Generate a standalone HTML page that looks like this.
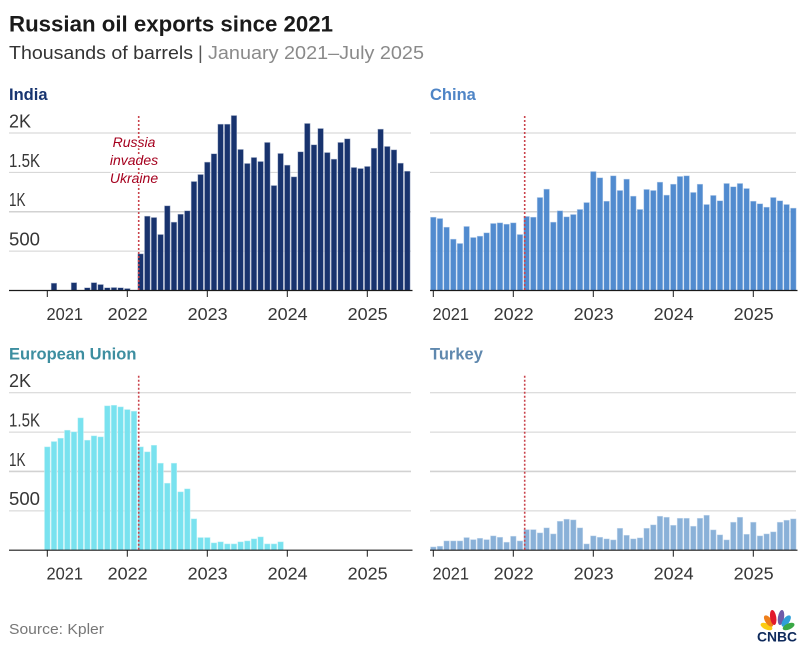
<!DOCTYPE html>
<html lang="en">
<head>
<meta charset="utf-8">
<title>Russian oil exports since 2021</title>
<style>
  html, body { margin: 0; padding: 0; background: #fff; }
  body { width: 806px; height: 664px; overflow: hidden; font-family: "Liberation Sans", sans-serif; }
  svg { display: block; }
  text { font-family: "Liberation Sans", sans-serif; }
</style>
</head>
<body>
<svg id="chart" xmlns="http://www.w3.org/2000/svg" width="806" height="664" viewBox="0 0 806 664">
  <text x="9" y="31.5" font-size="22.5" font-weight="700" fill="#1a1a1a" textLength="324" lengthAdjust="spacingAndGlyphs">Russian oil exports since 2021</text>
  <text x="9" y="59" font-size="18.5" fill="#333" textLength="184" lengthAdjust="spacingAndGlyphs">Thousands of barrels</text>
  <text x="198" y="59" font-size="18.5" fill="#555">|</text>
  <text x="208" y="59" font-size="18.5" fill="#8a8a8a" textLength="216" lengthAdjust="spacingAndGlyphs">January 2021–July 2025</text>
  <g id="panels"></g>
  <text x="9" y="634" font-size="14.5" fill="#777" textLength="95" lengthAdjust="spacingAndGlyphs">Source: Kpler</text>
  <g>
    <g>
      <ellipse cx="766.5" cy="626.5" rx="3" ry="6.3" fill="#fccc12" transform="rotate(-66 766.5 626.5)"/>
      <ellipse cx="768.6" cy="621" rx="3.2" ry="6.6" fill="#ef7f1a" transform="rotate(-36 768.6 621)"/>
      <ellipse cx="773.2" cy="617.5" rx="3.1" ry="7.6" fill="#e2192c" transform="rotate(-9 773.2 617.5)"/>
      <ellipse cx="781" cy="617.5" rx="3.1" ry="7.6" fill="#6e5ba8" transform="rotate(9 781 617.5)"/>
      <ellipse cx="786.2" cy="621" rx="3.2" ry="6.6" fill="#2f9fd8" transform="rotate(36 786.2 621)"/>
      <ellipse cx="788.6" cy="626.5" rx="3" ry="6.3" fill="#3aa845" transform="rotate(66 788.6 626.5)"/>
    </g>
    <text x="757" y="641.5" font-size="13.5" font-weight="700" fill="#0f2a5c" textLength="40" lengthAdjust="spacingAndGlyphs">CNBC</text>
  </g>
</svg>
<script>
const yearLabels = ["2021", "2022", "2023", "2024", "2025"];
const yearTickMonths = [0, 12, 24, 36, 48];
const yTickValues = [500, 1000, 1500, 2000];
const yTickLabels = ["500", "1K", "1.5K", "2K"];
const invasionMonth = 13.71;

const indiaValues = [0, 93, 0, 0, 100, 0, 35, 100, 76, 35, 38, 35, 25, 0, 465, 944, 927, 711, 1075, 868, 969, 1012, 1384, 1473, 1630, 1736, 2112, 2112, 2222, 1791, 1613, 1689, 1638, 1880, 1333, 1740, 1592, 1443, 1761, 2121, 1850, 2057, 1752, 1668, 1880, 1926, 1562, 1549, 1575, 1807, 2049, 1829, 1786, 1617, 1515];
const chinaValues = [931, 914, 804, 652, 597, 813, 673, 690, 732, 851, 859, 842, 859, 711, 940, 931, 1181, 1287, 868, 1012, 935, 965, 1029, 1117, 1511, 1431, 1134, 1456, 1270, 1414, 1198, 1029, 1283, 1270, 1376, 1211, 1350, 1448, 1456, 1245, 1350, 1092, 1207, 1139, 1359, 1317, 1359, 1295, 1134, 1101, 1058, 1181, 1139, 1092, 1046];
const euValues = [1312, 1380, 1422, 1524, 1503, 1680, 1397, 1452, 1439, 1833, 1841, 1820, 1786, 1765, 1312, 1249, 1333, 1105, 851, 1105, 741, 779, 398, 161, 161, 93, 106, 80, 80, 106, 118, 144, 169, 80, 80, 106, 0, 0, 0, 0, 0, 0, 0, 0, 0, 0, 0, 0, 0, 0, 0, 0, 0, 0, 0];
const turkeyValues = [42, 51, 118, 118, 118, 161, 135, 152, 135, 182, 165, 102, 178, 118, 262, 262, 220, 284, 207, 368, 394, 385, 284, 80, 182, 165, 144, 131, 279, 190, 144, 157, 279, 322, 432, 419, 317, 406, 406, 305, 406, 444, 258, 195, 131, 356, 419, 203, 356, 182, 207, 233, 356, 381, 398];

const NS = "http://www.w3.org/2000/svg";
const panelsRoot = document.getElementById("panels");

function svgEl(tag, attrs, parent) {
  const el = document.createElementNS(NS, tag);
  for (const k in attrs) el.setAttribute(k, attrs[k]);
  parent.appendChild(el);
  return el;
}

function labelFit(label) {
  if (label === "1K") return 16.5;
  if (label === "1.5K") return 31;
  if (label === "500") return 31;
  if (label === "2021") return 36.5;
  if (label === "2022" || label === "2023" || label === "2024" || label === "2025") return 40;
  return null;
}

function drawPanel(p) {
  const xScale = function (m) { return p.x0 + m * (80 / 12); };
  const yScale = function (v) { return p.base - v * 0.07875; };
  const g = svgEl("g", {}, panelsRoot);
  
  

  const heading = svgEl("text", { x: p.titleX, y: p.base - 190.5, "font-size": 16.5, "font-weight": 700, fill: p.titleColor }, g);
  heading.textContent = p.title;
  
  

  yTickValues.forEach(function (v, i) {
    const y = yScale(v);
    const grid = svgEl("line", { x1: p.left, x2: p.right, y1: y, y2: y, stroke: "#d2d2d2", "stroke-width": v === 1000 ? 1.6 : 1 }, g);
    
    
    if (p.showY) {
      const lab = svgEl("text", { x: p.left, y: y - 5.6, "font-size": 18, fill: "#363636" }, g);
      lab.textContent = yTickLabels[i];
      const fit = labelFit(yTickLabels[i]);
      if (fit) {
        lab.setAttribute("textLength", fit);
        lab.setAttribute("lengthAdjust", "spacingAndGlyphs");
      }
      
      
    }
  });

  p.values.forEach(function (v, m) {
    if (!v) return;
    const bar = svgEl("rect", { x: xScale(m) - 2.8, y: yScale(v), width: 5.6, height: p.base - yScale(v), fill: p.color, "fill-opacity": 0.96, stroke: p.edge, "stroke-width": 0.5 }, g);
    
    
  });

  const axis = svgEl("line", { x1: p.left, x2: p.right + 1.5, y1: p.base, y2: p.base, stroke: "#1a1a1a", "stroke-width": 1.2 }, g);
  
  

  yearLabels.forEach(function (label, i) {
    const x = xScale(yearTickMonths[i]);
    const tick = svgEl("line", { x1: x, x2: x, y1: p.base, y2: p.base + 6.5, stroke: "#1a1a1a", "stroke-width": 1 }, g);
    
    
    const text = svgEl("text", { x: i === 0 ? x + 17.5 : x + 0.4, y: p.base + 29.5, "font-size": 17.5, "text-anchor": "middle", fill: "#363636" }, g);
    text.textContent = label;
    const fit = labelFit(label);
    if (fit) {
      text.setAttribute("textLength", fit);
      text.setAttribute("lengthAdjust", "spacingAndGlyphs");
    }
    
    
  });

  const ev = xScale(invasionMonth);
  const evLine = svgEl("line", { x1: ev, x2: ev, y1: p.base - 174.5, y2: p.base, stroke: "#c9434c", "stroke-width": 1.6, "stroke-dasharray": "2 2" }, g);
  
  

  if (p.annotate) {
    ["Russia", "invades", "Ukraine"].forEach(function (line, i) {
      const note = svgEl("text", { x: 134, y: 146.8 + i * 18, "font-size": 14, "font-style": "italic", "text-anchor": "middle", fill: "#a5001e", stroke: "#fff", "stroke-width": 3, "paint-order": "stroke" }, g);
      note.textContent = line;
      
      
    });
  }
}

drawPanel({ slug: "india", title: "India", titleColor: "#17346f", titleX: 9, values: indiaValues, color: "#0f2b68", edge: "#a9b4cc", x0: 47.3, base: 290.5, left: 9, right: 411, showY: true, annotate: true });
drawPanel({ slug: "china", title: "China", titleColor: "#4f85c6", titleX: 430, values: chinaValues, color: "#4a86cd", edge: "#b5cdea", x0: 433.3, base: 290.5, left: 430, right: 796, showY: false, annotate: false });
drawPanel({ slug: "european-union", title: "European Union", titleColor: "#3d8ea0", titleX: 9, values: euValues, color: "#74e1ee", edge: "#c4f1f6", x0: 47.3, base: 550.2, left: 9, right: 411, showY: true, annotate: false });
drawPanel({ slug: "turkey", title: "Turkey", titleColor: "#5f88ae", titleX: 430, values: turkeyValues, color: "#85aed6", edge: "#cddff0", x0: 433.3, base: 550.2, left: 430, right: 796, showY: false, annotate: false });
</script>
</body>
</html>
